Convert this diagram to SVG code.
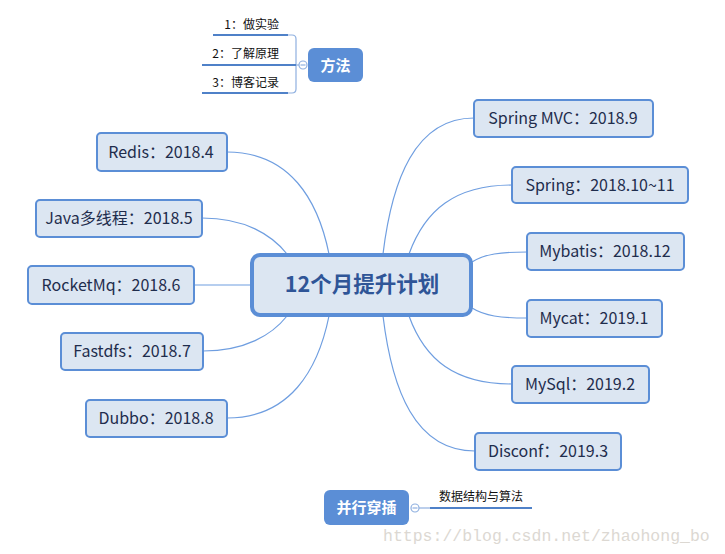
<svg xmlns="http://www.w3.org/2000/svg" width="725" height="554" viewBox="0 0 725 554">
<style>
.box{fill:#dce6f2;stroke:#5b8ed6;stroke-width:2}
.lbl{font-family:"Noto Sans CJK SC","Liberation Sans",sans-serif;font-size:16px;fill:#1f2d4d;text-anchor:middle}
.con{fill:none;stroke:#6f9ee0;stroke-width:1.2}
.fill{fill:#5b8ed6}
.wl{font-family:"Noto Sans CJK SC",sans-serif;font-size:15px;font-weight:bold;fill:#ffffff;text-anchor:middle}
.sub{font-family:"Noto Sans CJK SC",sans-serif;font-size:12px;fill:#111111}
.ul{stroke:#4f81c8;stroke-width:2.2;fill:none}
.thin{stroke:#8fb0e0;stroke-width:1.2;fill:none}
.knob{fill:#ffffff;stroke:#8fb0e0;stroke-width:1.2}
</style>
<g id="connectors">
<path class="con" d="M383,254 C392,180 415,118 474,118"/>
<path class="con" d="M409,254 C425,210 455,185 512,185"/>
<path class="con" d="M472,262 C485,254 500,252 527,252"/>
<path class="con" d="M472,308 C485,316 500,318 527,318"/>
<path class="con" d="M409,316 C425,360 455,384 512,384"/>
<path class="con" d="M383,316 C392,390 415,451 475,451"/>
<path class="con" d="M227,152 C290,152 318,200 329,254"/>
<path class="con" d="M202,218 C245,218 272,235 287,254"/>
<path class="con" d="M194,285 L251,285"/>
<path class="con" d="M203,351 C245,351 272,335 287,316"/>
<path class="con" d="M227,418 C290,418 318,370 329,316"/>
</g>
<g id="center">
<rect x="252" y="255" width="219" height="60" rx="8" fill="#dce6f2" stroke="#5b8ed6" stroke-width="4"/>
<text x="362" y="292" font-family="Noto Sans CJK SC,sans-serif" font-size="21.5" font-weight="bold" fill="#2f5597" text-anchor="middle">12个月提升计划</text>
</g>
<g id="n-redis"><rect class="box" x="97" y="133" width="130" height="38" rx="4"/><text class="lbl" x="161" y="157.5">Redis：2018.4</text></g>
<g id="n-java"><rect class="box" x="36" y="200" width="166" height="37" rx="4"/><text class="lbl" x="119" y="224">Java多线程：2018.5</text></g>
<g id="n-rocketmq"><rect class="box" x="28" y="266" width="166" height="38" rx="4"/><text class="lbl" x="111" y="290.5">RocketMq：2018.6</text></g>
<g id="n-fastdfs"><rect class="box" x="61" y="333" width="142" height="37" rx="4"/><text class="lbl" x="132" y="357">Fastdfs：2018.7</text></g>
<g id="n-dubbo"><rect class="box" x="86" y="400" width="141" height="37" rx="4"/><text class="lbl" x="156" y="424">Dubbo：2018.8</text></g>
<g id="n-springmvc"><rect class="box" x="474" y="100" width="179" height="37" rx="4"/><text class="lbl" x="563" y="124">Spring MVC：2018.9</text></g>
<g id="n-spring"><rect class="box" x="512" y="167" width="176" height="36" rx="4"/><text class="lbl" x="600" y="190.5">Spring：2018.10~11</text></g>
<g id="n-mybatis"><rect class="box" x="527" y="233" width="157" height="37" rx="4"/><text class="lbl" x="605" y="257">Mybatis：2018.12</text></g>
<g id="n-mycat"><rect class="box" x="527" y="300" width="135" height="37" rx="4"/><text class="lbl" x="594" y="324">Mycat：2019.1</text></g>
<g id="n-mysql"><rect class="box" x="512" y="366" width="137" height="37" rx="4"/><text class="lbl" x="580" y="390">MySql：2019.2</text></g>
<g id="n-disconf"><rect class="box" x="475" y="433" width="146" height="37" rx="4"/><text class="lbl" x="548" y="457">Disconf：2019.3</text></g>
<g id="method-links">
<path class="thin" d="M288,35 L292,35 Q296,35 296,39 L296,89 Q296,93 292,93 L288,93"/>
<path class="thin" d="M296,65 L299,65"/>
<path class="ul" d="M213,35 L288,35"/>
<path class="ul" d="M202,65 L296,65"/>
<path class="ul" d="M202,93 L288,93"/>
<circle class="knob" cx="303" cy="65" r="4"/>
<path d="M300.5,65 L305.5,65" stroke="#8fb0e0" stroke-width="1.2"/>
</g>
<g id="m1"><text class="sub" x="279" y="29" text-anchor="end">1：做实验</text></g>
<g id="m2"><text class="sub" x="279" y="58" text-anchor="end">2：了解原理</text></g>
<g id="m3"><text class="sub" x="279" y="87" text-anchor="end">3：博客记录</text></g>
<g id="n-method"><rect class="fill" x="308" y="48" width="55" height="34" rx="6"/><text class="wl" x="335.5" y="70.5">方法</text></g>
<g id="parallel-links">
<path class="thin" d="M419,508 L430,508"/>
<path class="ul" d="M430,508 L532,508"/>
<circle class="knob" cx="415" cy="508" r="4"/>
<path d="M412.5,508 L417.5,508" stroke="#8fb0e0" stroke-width="1.2"/>
</g>
<g id="n-parallel"><rect class="fill" x="324" y="490" width="85" height="35" rx="6"/><text class="wl" x="366.5" y="513">并行穿插</text></g>
<g id="p1"><text class="sub" x="439" y="501">数据结构与算法</text></g>
<text x="383" y="541" font-family="Liberation Mono,monospace" font-size="16.5" fill="#dcd8d2">https://blog.csdn.net/zhaohong_bo</text>
</svg>
